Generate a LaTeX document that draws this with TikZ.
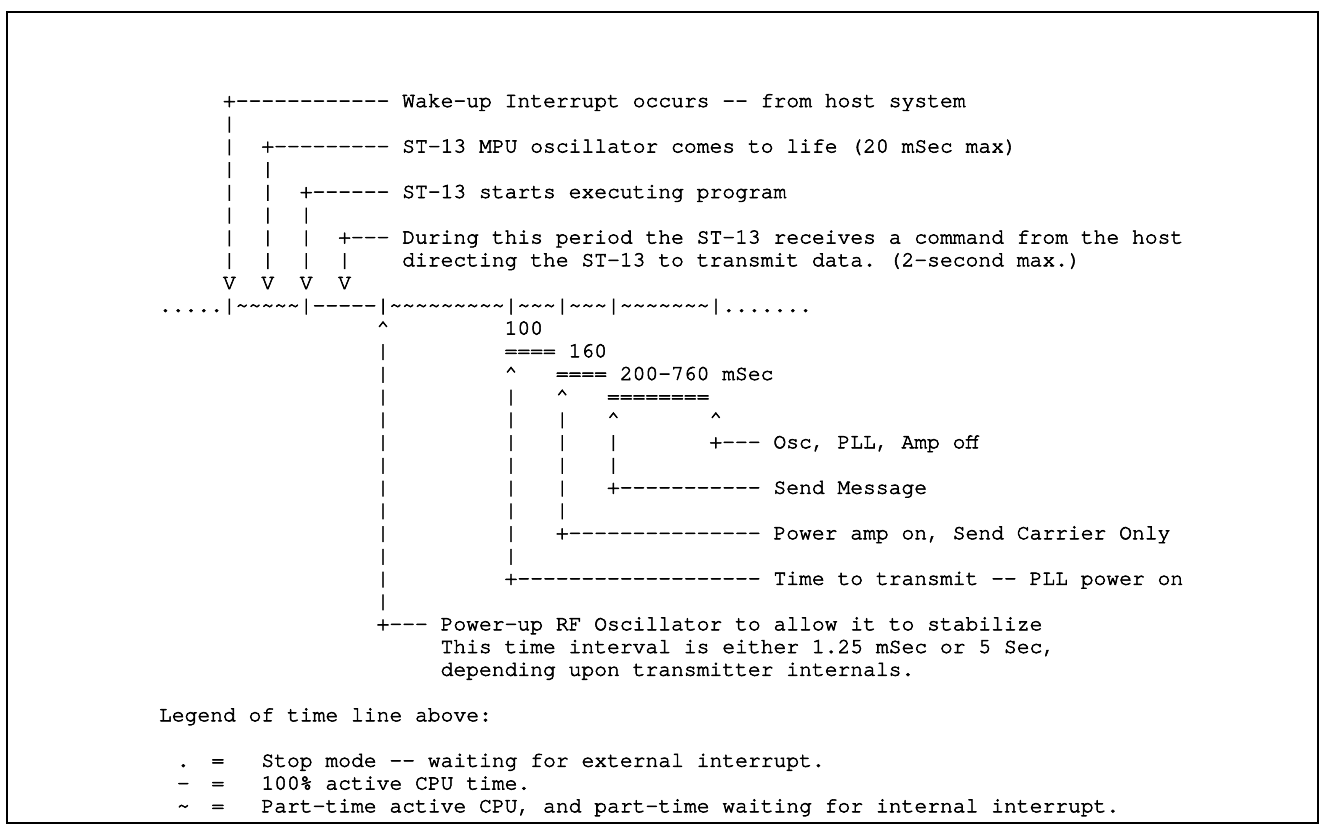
\documentclass[tikz,border=0pt]{standalone}
\usepackage{fontspec}
\setmonofont{TeX Gyre Cursor}[FakeBold=2.5]
\newcommand\tld{\textasciitilde}
\newcommand\crt{\textasciicircum}
\tikzset{
  txt/.style={anchor=base west, inner sep=0pt, text=black,
    font=\ttfamily\fontsize{10.67pt}{12pt}\selectfont\frenchspacing},
}
% col: character column, row: text line
\newcommand\frag[3]{\node[txt] (r#2c#1) at ({158.6+12.8*#1},{107+22.75*(#2-1)}) {#3};}
\begin{document}
\begin{tikzpicture}[x=0.5pt,y=-0.5pt]
\useasboundingbox (0,0) rectangle (1325,835);
\draw[line width=1.3pt] (7,12) rectangle (1318,823);
% upper part
\frag{5}{1}{+------------ Wake-up Interrupt occurs -- from host system}
\frag{5}{2}{|}
\frag{5}{3}{|}\frag{8}{3}{+--------- ST-13 MPU oscillator comes to life (20 mSec max)}
\frag{5}{4}{|}\frag{8}{4}{|}
\frag{5}{5}{|}\frag{8}{5}{|}\frag{11}{5}{+------ ST-13 starts executing program}
\frag{5}{6}{|}\frag{8}{6}{|}\frag{11}{6}{|}
\frag{5}{7}{|}\frag{8}{7}{|}\frag{11}{7}{|}\frag{14}{7}{+--- During this period the ST-13 receives a command from the host}
\frag{5}{8}{|}\frag{8}{8}{|}\frag{11}{8}{|}\frag{14}{8}{|}\frag{19}{8}{directing the ST-13 to transmit data. (2-second max.)}
\frag{5}{9}{V}\frag{8}{9}{V}\frag{11}{9}{V}\frag{14}{9}{V}
% time line
\frag{0}{10}{.....|\tld\tld\tld\tld\tld|-----|\tld\tld\tld\tld\tld\tld\tld\tld\tld|\tld\tld\tld|\tld\tld\tld|\tld\tld\tld\tld\tld\tld\tld|.......}
% lower part
\frag{17}{11}{\crt}\frag{27}{11}{100}
\frag{17}{12}{|}\frag{27}{12}{==== 160}
\frag{17}{13}{|}\frag{27}{13}{\crt}\frag{31}{13}{==== 200-760 mSec}
\frag{17}{14}{|}\frag{27}{14}{|}\frag{31}{14}{\crt}\frag{35}{14}{========}
\frag{17}{15}{|}\frag{27}{15}{|}\frag{31}{15}{|}\frag{35}{15}{\crt}\frag{43}{15}{\crt}
\frag{17}{16}{|}\frag{27}{16}{|}\frag{31}{16}{|}\frag{35}{16}{|}\frag{43}{16}{+--- Osc, PLL, Amp off}
\frag{17}{17}{|}\frag{27}{17}{|}\frag{31}{17}{|}\frag{35}{17}{|}
\frag{17}{18}{|}\frag{27}{18}{|}\frag{31}{18}{|}\frag{35}{18}{+----------- Send Message}
\frag{17}{19}{|}\frag{27}{19}{|}\frag{31}{19}{|}
\frag{17}{20}{|}\frag{27}{20}{|}\frag{31}{20}{+--------------- Power amp on, Send Carrier Only}
\frag{17}{21}{|}\frag{27}{21}{|}
\frag{17}{22}{|}\frag{27}{22}{+------------------- Time to transmit -- PLL power on}
\frag{17}{23}{|}
\frag{17}{24}{+--- Power-up RF Oscillator to allow it to stabilize}
\frag{22}{25}{This time interval is either 1.25 mSec or 5 Sec,}
\frag{22}{26}{depending upon transmitter internals.}
% legend
\frag{0}{28}{Legend of time line above:}
\node[txt] (symdot) at ({158.6+12.8*1.4},{107+22.75*29}) {.};
\node[txt] (eqdot) at ({158.6+12.8*4.1},{107+22.75*29}) {=};
\frag{8}{30}{Stop mode -- waiting for external interrupt.}
\node[txt] (symdash) at ({158.6+12.8*1.4},{107+22.75*30}) {-};
\node[txt] (eqdash) at ({158.6+12.8*4.1},{107+22.75*30}) {=};
\frag{8}{31}{100\% active CPU time.}
\node[txt] (symtld) at ({158.6+12.8*1.4},{107+22.75*31}) {\tld};
\node[txt] (eqtld) at ({158.6+12.8*4.1},{107+22.75*31}) {=};
\frag{8}{32}{Part-time active CPU, and part-time waiting for internal interrupt.}
\end{tikzpicture}
\end{document}
